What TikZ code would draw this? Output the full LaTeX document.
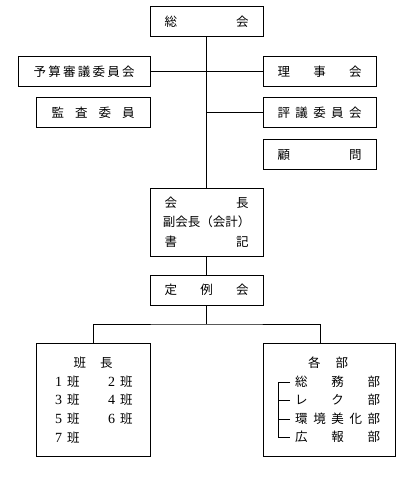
\documentclass[tikz,border=0pt]{standalone}
\usepackage{fontspec}
\setmainfont{Liberation Serif}
\newfontfamily\jp{Noto Sans CJK JP}
\usepackage{tikz}
\usetikzlibrary{positioning, calc}
\tikzstyle{block} = [rectangle, draw, line width=1pt, fill=white,
                 inner sep=0pt, minimum height=30pt]
\tikzstyle{branch} = [line width=1pt, draw]
\tikzset{
	jtext/.style={inner sep=0pt, font=\jp\fontsize{12.5}{19.5}\selectfont},
	wide/.style={minimum width=113pt},
}
\newcommand{\spread}[2][84pt]{\makebox[#1]{#2}}

\begin{document}
\begin{tikzpicture}[x=1pt, y=-1pt]

\useasboundingbox (0,0) rectangle (410,478);

\node [block, wide, jtext] at (206.5,22) (soukai) {\spread{総\hfill 会}};
\node [block, minimum width=132pt, jtext] at (84,71.5) (yosan) {\spread[101pt]{予\hfill 算\hfill 審\hfill 議\hfill 委\hfill 員\hfill 会}};
\node [block, wide, jtext] at (319.5,71.5) (riji) {\spread{理\hfill 事\hfill 会}};
\node [block, minimum width=114pt, jtext] at (93,113) (kansa) {\spread[83pt]{監\hfill 査\hfill 委\hfill 員}};
\node [block, wide, jtext] at (319.5,113) (hyougi) {\spread{評\hfill 議\hfill 委\hfill 員\hfill 会}};
\node [block, wide, jtext] at (319.5,155) (komon) {\spread{顧\hfill 問}};
\node [block, wide, minimum height=68pt, jtext, align=center] at (206.5,222) (kaicho)
	{\spread{会\hfill 長}\\ \spread{副会長（会計）}\\ \spread{書\hfill 記}};
\node [block, wide, jtext] at (206.5,290) (teirei) {\spread{定\hfill 例\hfill 会}};
\node [block, minimum width=114pt, minimum height=113pt] at (93,399.5) (hanbox) {};
\node [block, minimum width=132pt, minimum height=113pt] at (329,399.5) (bubox) {};

% han
\node [jtext] at (93,363) (hancho) {\spread[39pt]{班\hfill 長}};
\foreach \n/\x/\y in {1/55/382, 2/108/382, 3/55/400, 4/108/400, 5/55/419, 6/108/419, 7/55/438}
	\node [jtext, anchor=west] at (\x,\y) (han\n) {{\rmfamily\fontsize{14}{14}\selectfont\n}\hspace{5pt}班};

% bu
\node [jtext] at (328,363) (kakubu) {\spread[40pt]{各\hfill 部}};
\node [jtext, anchor=west] at (295,382) (bu1) {\spread[85pt]{総\hfill 務\hfill 部}};
\node [jtext, anchor=west] at (295,400) (bu2) {\spread[85pt]{レ\hfill ク\hfill 部}};
\node [jtext, anchor=west] at (295,419) (bu3) {\spread[85pt]{環\hfill 境\hfill 美\hfill 化\hfill 部}};
\node [jtext, anchor=west] at (295,437) (bu4) {\spread[85pt]{広\hfill 報\hfill 部}};

\coordinate (fork) at (206.5,324);
\coordinate (budrop) at (320,343);

\path [branch] (soukai.south) -- (kaicho.north);
\path [branch] (yosan.east) -- (riji.west);
\path [branch] (hyougi.west) -- (hyougi.west -| soukai.south);
\path [branch] (kaicho.south) -- (teirei.north);
\path [branch] (teirei.south) -- (fork);
\path [branch] (hanbox.north) |- (fork) -| (budrop);

\path [branch] ($(bu1.west)+(-5,0)$) -- ($(bu1.west)+(-16.5,0)$) -- ($(bu4.west)+(-16.5,0)$) -- ($(bu4.west)+(-5,0)$);
\foreach \i in {2,3}
	\path [branch] ($(bu\i.west)+(-5,0)$) -- ($(bu\i.west)+(-16.5,0)$);

\end{tikzpicture}
\end{document}
